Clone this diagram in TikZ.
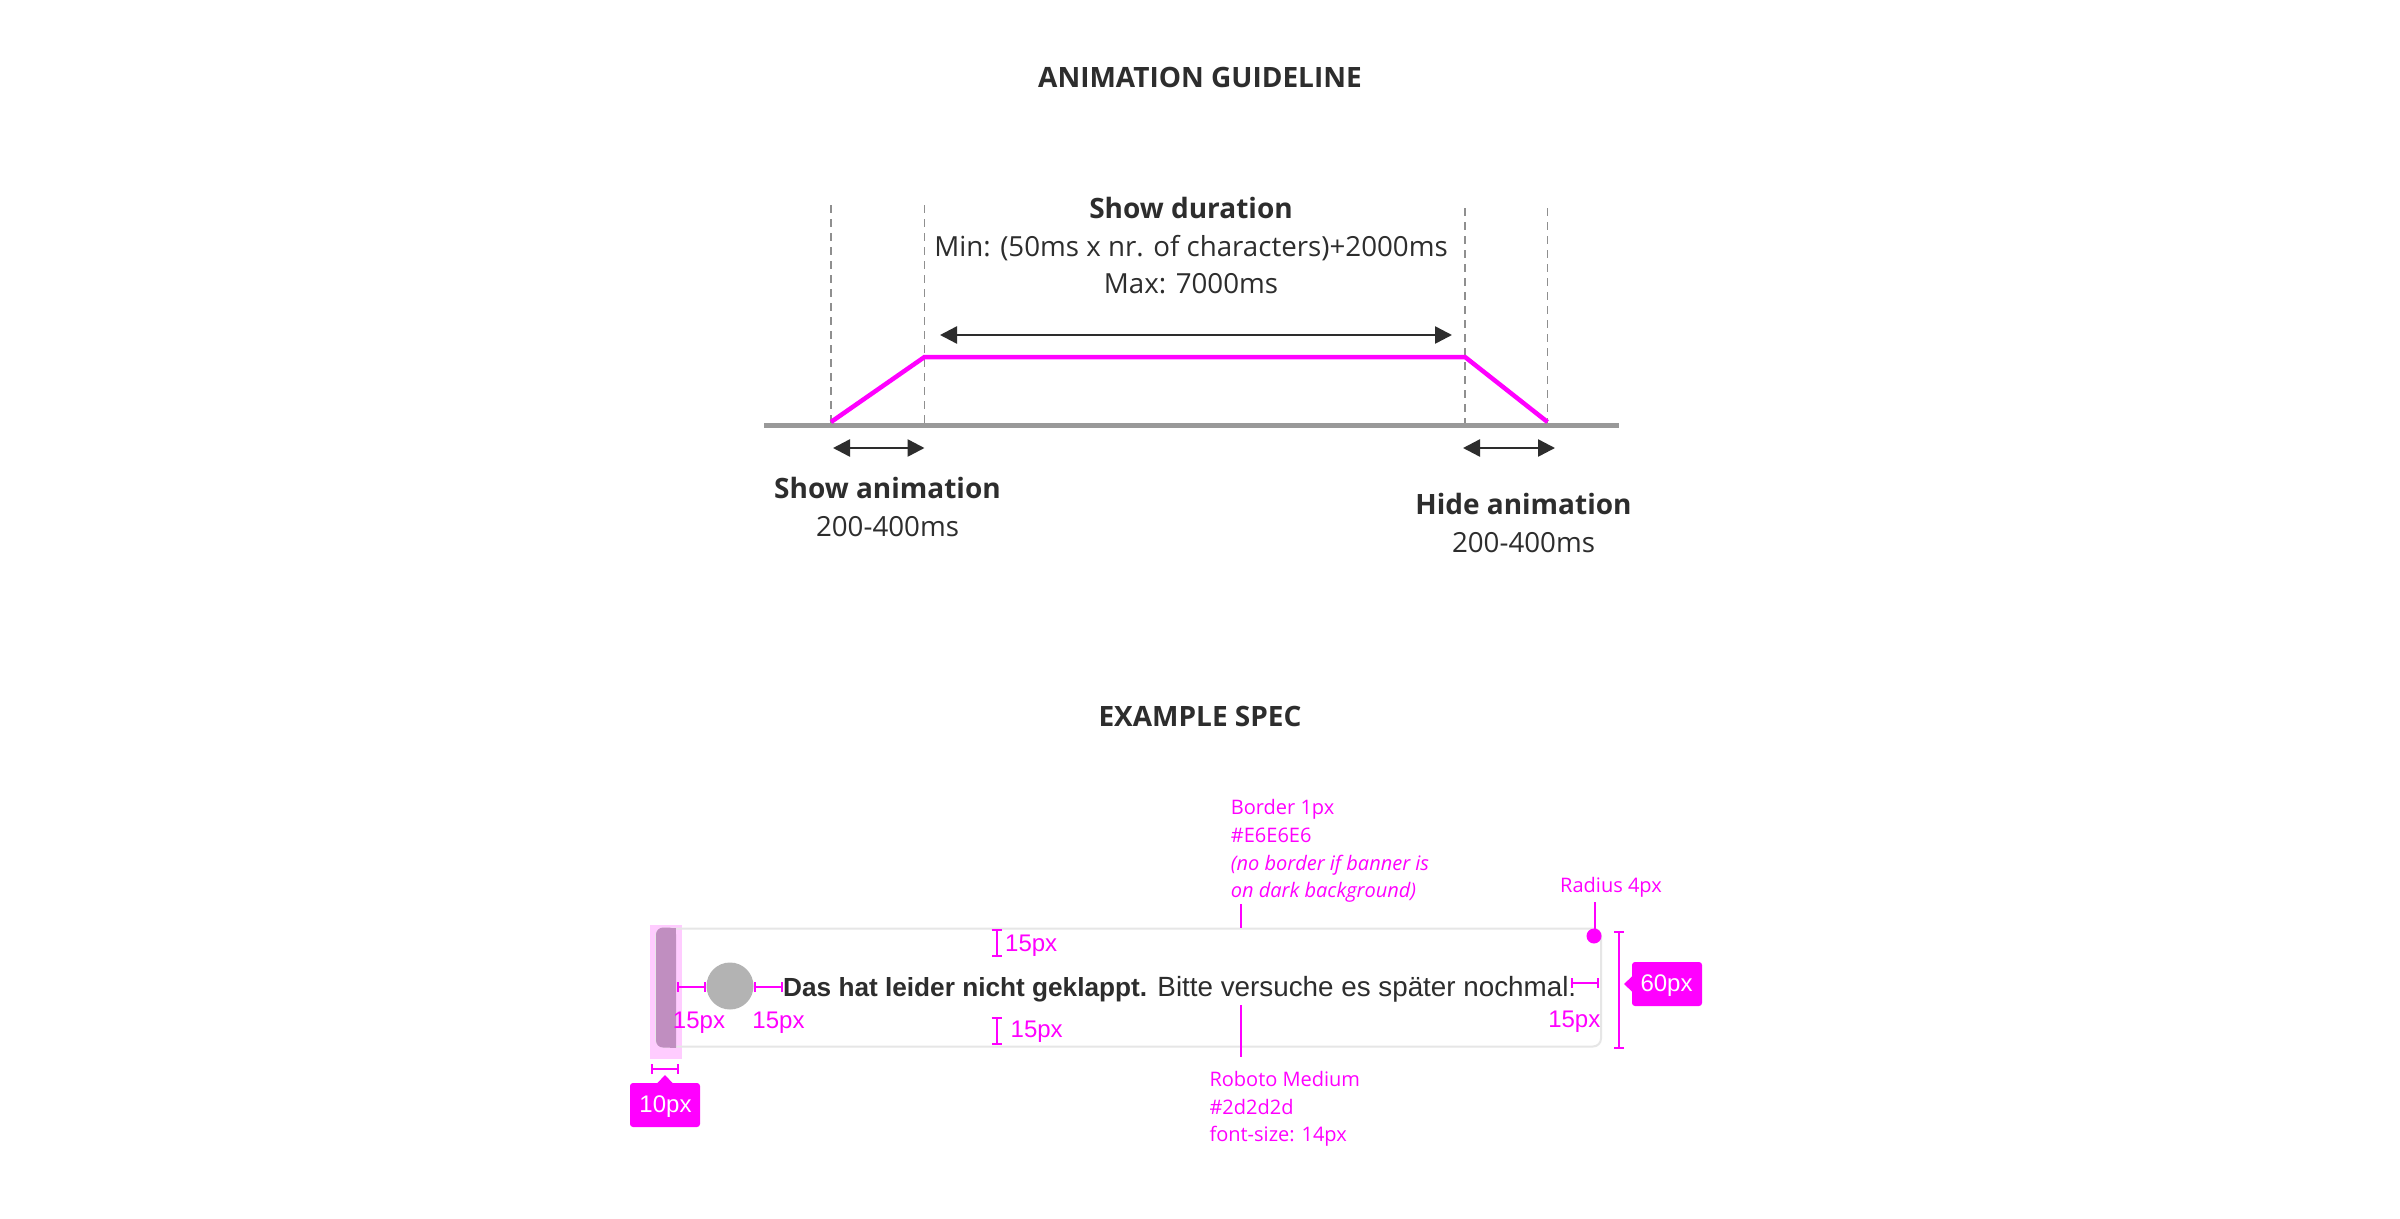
\documentclass[tikz,border=0pt]{standalone}
\usepackage{fontspec}
\setmainfont{Open Sans}
\newfontfamily\arialf{Liberation Sans}
\usetikzlibrary{arrows.meta}
\definecolor{mag}{HTML}{FF00FF}
\definecolor{ink}{HTML}{2D2D2D}
\definecolor{grayline}{HTML}{999999}
\definecolor{dashc}{HTML}{8F8F8F}
\definecolor{bord}{HTML}{E6E6E6}
\definecolor{stripe}{HTML}{C08EC0}
\definecolor{hilite}{HTML}{FFCCFF}
\definecolor{iconc}{HTML}{B3B3B3}
\tikzset{
  txt/.style={inner sep=0pt, text=ink, font=\fontsize{27.7}{32}\selectfont, anchor=base},
  txtb/.style={txt, font=\fontsize{28}{32}\selectfont\bfseries},
  ttl/.style={txt, font=\fontsize{28}{32}\selectfont\bfseries},
  dashv/.style={draw=dashc, line width=1.8pt, dash pattern=on 8pt off 6pt},
  durarrow/.style={draw=ink, line width=2.5pt, {Triangle[length=17pt,width=17pt]}-{Triangle[length=17pt,width=17pt]}},
  dimline/.style={draw=mag, line width=2pt, {Bar[width=10pt]}-{Bar[width=10pt]}},
  mlabel/.style={inner sep=0pt, text=mag, font=\arialf\fontsize{24}{28}\selectfont, anchor=base},
  tlabel/.style={inner sep=0pt, text=white, font=\arialf\fontsize{24}{28}\selectfont, anchor=base},
  note/.style={inner sep=0pt, text=mag, font=\fontsize{20}{24}\selectfont, anchor=base west},
  tagbox/.style={fill=mag, rounded corners=3pt},
  leader/.style={draw=mag, line width=2.5pt},
}
\begin{document}
\begin{tikzpicture}[x=1pt,y=-1pt]
\useasboundingbox (0,0) rectangle (2400,1218);
\fill[white] (0,0) rectangle (2400,1218);

% ---------- Animation guideline ----------
\node[ttl] (title1) at (1200,87) {ANIMATION GUIDELINE};

\coordinate (d1t) at (831,205);  \coordinate (d1b) at (831,425);
\coordinate (d2t) at (924.5,205);\coordinate (d2b) at (924.5,425);
\coordinate (d3t) at (1465,208); \coordinate (d3b) at (1465,425);
\coordinate (d4t) at (1547.5,208);\coordinate (d4b) at (1547.5,425);
\draw[dashv] (d1t) -- (d1b);
\draw[dashv] (d2t) -- (d2b);
\draw[dashv] (d3t) -- (d3b);
\draw[dashv] (d4t) -- (d4b);

\coordinate (bl) at (764,425.5); \coordinate (br) at (1619,425.5);
\draw[grayline, line width=5pt] (bl) -- (br);

\coordinate (p1) at (831,422); \coordinate (p2) at (924.5,357);
\coordinate (p3) at (1465,357); \coordinate (p4) at (1547.5,422);
\draw[mag, line width=4.5pt, line join=miter] (p1) -- (p2) -- (p3) -- (p4);

\node[txtb] (sd) at (1191,218) {Show duration};
\node[txt] (sdmin) at (1191,256) {Min: (50ms x nr. of characters)+2000ms};
\node[txt] (sdmax) at (1191,293) {Max: 7000ms};
\coordinate (dl) at (940,335); \coordinate (dr) at (1452,335);
\draw[durarrow] (dl) -- (dr);

\coordinate (sal) at (833,448); \coordinate (sar) at (924.5,448);
\draw[durarrow] (sal) -- (sar);
\node[txtb] (sa) at (887.5,498) {Show animation};
\node[txt] (sat) at (887.5,536) {200-400ms};

\coordinate (hal) at (1463,448); \coordinate (har) at (1555,448);
\draw[durarrow] (hal) -- (har);
\node[txtb] (ha) at (1523.5,514) {Hide animation};
\node[txt] (hat) at (1523.5,552) {200-400ms};

% ---------- Example spec ----------
\node[ttl] (title2) at (1200,726) {EXAMPLE SPEC};

\fill[hilite] (650,925) rectangle (681.7,1059);
\draw[bord, line width=2pt, rounded corners=8pt] (656,928.5) rectangle (1601,1046.5);
\fill[stripe, rounded corners=7pt] (656,927.5) -- (676,927.5) [sharp corners] -- (676,1047.5) [rounded corners=7pt] -- (656,1047.5) -- cycle;
\fill[stripe] (670,927.5) rectangle (676,1047.5);

\node[circle, fill=iconc, minimum size=47pt, inner sep=0pt] (ic) at (730,986) {};

\node[inner sep=0pt, text=ink, font=\arialf\fontsize{27.8}{32}\selectfont, anchor=base west] (btxt) at (783,996)
  {{\fontsize{26.2}{32}\selectfont\bfseries Das hat leider nicht geklappt.} Bitte versuche es später nochmal.};

% horizontal 15px dims
\coordinate (h1a) at (677.3,987); \coordinate (h1b) at (705.7,987);
\draw[dimline] (h1a) -- (h1b);
\coordinate (h2a) at (754.3,987); \coordinate (h2b) at (783.3,987);
\draw[dimline] (h2a) -- (h2b);
\node[mlabel] (l15a) at (699,1028.3) {15px};
\node[mlabel] (l15b) at (778.5,1028.3) {15px};

% vertical 15px dims
\coordinate (v1a) at (996.7,929); \coordinate (v1b) at (996.7,957);
\draw[dimline] (v1a) -- (v1b);
\node[mlabel, anchor=base west] (l15c) at (1005,951.7) {15px};
\coordinate (v2a) at (996.7,1017); \coordinate (v2b) at (996.7,1045);
\draw[dimline] (v2a) -- (v2b);
\node[mlabel, anchor=base west] (l15d) at (1010.5,1037.3) {15px};

% right 15px dim
\coordinate (h3a) at (1571,983); \coordinate (h3b) at (1599,983);
\draw[dimline] (h3a) -- (h3b);
\node[mlabel, anchor=base east] (l15e) at (1600.5,1027.3) {15px};

% 60px dim
\coordinate (v3a) at (1619,931); \coordinate (v3b) at (1619,1049);
\draw[dimline] (v3a) -- (v3b);
\fill[tagbox] (1632,962) rectangle (1702,1006);
\fill[mag] (1624,984) -- (1633,975.5) -- (1633,992.5) -- cycle;
\node[tlabel] (l60) at (1666.5,991.7) {60px};

% 10px dim
\coordinate (h4a) at (651,1069); \coordinate (h4b) at (679.3,1069);
\draw[dimline] (h4a) -- (h4b);
\fill[tagbox] (630,1083) rectangle (700,1127);
\fill[mag] (665,1075) -- (656.5,1084) -- (673.5,1084) -- cycle;
\node[tlabel] (l10) at (665.5,1112.3) {10px};

% radius note
\node[note, anchor=base] (rad) at (1611,892.3) {Radius 4px};
\fill[mag] (1594,936) circle (7.5pt);
\coordinate (radt) at (1595,902); \coordinate (radb) at (1595,934);
\draw[leader] (radt) -- (radb);

% border note
\node[note] (bn1) at (1230.7,814.3) {Border 1px};
\node[note] (bn2) at (1230.7,842.7) {\#E6E6E6};
\node[note] (bn3) at (1230.7,870) {\itshape (no border if banner is};
\node[note] (bn4) at (1230.7,897.7) {\itshape on dark background)};
\coordinate (bnt) at (1241,904); \coordinate (bnb) at (1241,927.5);
\draw[leader] (bnt) -- (bnb);

% font note
\coordinate (fnt) at (1241,1005); \coordinate (fnb) at (1241,1057);
\draw[leader] (fnt) -- (fnb);
\node[note] (fn1) at (1209.3,1086) {Roboto Medium};
\node[note] (fn2) at (1209.3,1114.3) {\#2d2d2d};
\node[note] (fn3) at (1209.3,1141.7) {font-size: 14px};
\end{tikzpicture}
\end{document}
